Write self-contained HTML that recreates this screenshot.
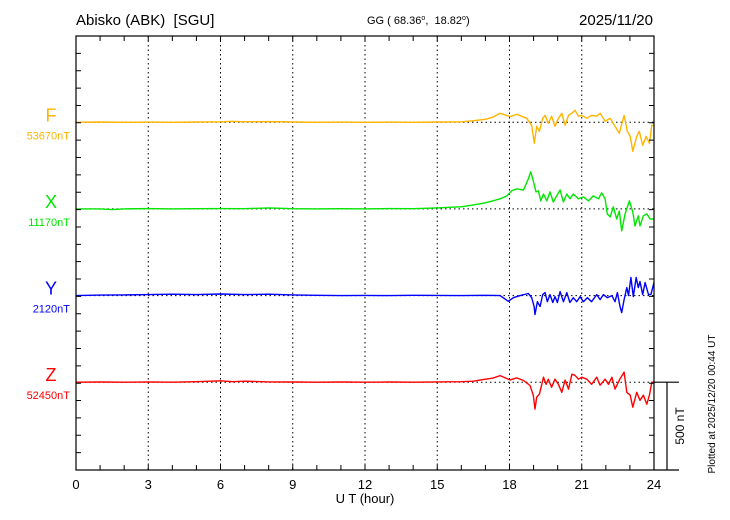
<!DOCTYPE html>
<html><head><meta charset="utf-8"><style>
body{margin:0;background:#fff;}
svg{display:block;font-family:"Liberation Sans",sans-serif;}
</style></head><body>
<svg id="chart" width="730" height="520" viewBox="0 0 730 520">
<text x="76" y="25" font-size="15">Abisko (ABK)&#160;&#160;[SGU]</text>
<text x="367" y="24" font-size="11">GG ( 68.36<tspan dy="-4" font-size="7">o</tspan><tspan dy="4">,&#160;&#160;18.82</tspan><tspan dy="-4" font-size="7">o</tspan><tspan dy="4">)</tspan></text>
<text x="653" y="25" font-size="15" text-anchor="end">2025/11/20</text>
<g id="grid"></g>
<g id="series"></g>
<g id="axes"></g>
<text x="365" y="503" font-size="13" text-anchor="middle">U T (hour)</text>
<text transform="translate(684,426) rotate(-90)" font-size="12" text-anchor="middle">500 nT</text>
<text transform="translate(715,404) rotate(-90)" font-size="10" text-anchor="middle">Plotted at 2025/12/20 00:44 UT</text>
</svg>
<script>
const xTicks=[0,3,6,9,12,15,18,21,24];
const names=['F','X','Y','Z'];
const baseLabels=['53670nT','11170nT','2120nT','52450nT'];
const colors=['#ffb400','#00e600','#0000ff','#ff0000'];
const tF=[0,1,2,3,4,5,6,6.5,7,8,9,10,11,12,13,14,15,16,16.5,17,17.3,17.61,18.02,18.3,18.72,18.92,19.03,19.13,19.24,19.38,19.48,19.61,19.75,19.89,20.03,20.17,20.31,20.45,20.59,20.72,20.86,21.0,21.21,21.41,21.62,21.76,21.97,22.18,22.38,22.56,22.76,22.89,23.01,23.12,23.28,23.39,23.53,23.67,23.81,23.91,24.0];
const vF=[0,2,0,1,0,2,3,6,3,4,2,0,1,0,1,0,2,3,9,17,29,52,33,46,23,-17,-121,-23,-52,23,40,-6,35,-23,23,52,-17,40,52,69,35,40,23,40,35,52,6,23,-23,-63,40,-52,-81,-167,-81,-52,-132,-81,-121,-17,-17];
const tX=[0,1,1.5,2,3,4,5,6,7,8,9,10,11,12,13,14,15,15.5,16,16.5,17,17.3,17.61,17.89,18.09,18.3,18.58,18.78,18.88,18.99,19.1,19.2,19.3,19.41,19.55,19.68,19.82,19.96,20.1,20.24,20.38,20.51,20.65,20.86,21.07,21.28,21.48,21.69,21.83,21.97,22.06,22.18,22.31,22.45,22.56,22.66,22.8,22.98,23.12,23.21,23.35,23.42,23.56,23.7,23.84,24.0];
const vX=[0,0,-4,0,2,0,1,2,1,6,1,0,1,0,2,1,6,9,12,23,35,46,58,75,104,115,109,173,213,161,98,104,46,86,46,98,40,75,109,40,86,58,86,58,69,46,75,58,92,58,-29,-46,12,-58,-12,-127,-29,46,-17,-98,-40,-98,-40,-29,-58,-58];
const tY=[0,1,2,3,4,5,6,7,8,9,10,11,12,13,14,15,16,17,17.61,17.95,18.16,18.44,18.78,18.92,19.02,19.06,19.16,19.27,19.38,19.48,19.57,19.68,19.8,19.89,19.99,20.1,20.24,20.38,20.51,20.65,20.79,20.93,21.07,21.23,21.41,21.62,21.76,21.9,22.06,22.25,22.38,22.48,22.59,22.66,22.76,22.87,22.94,23.04,23.14,23.26,23.35,23.42,23.53,23.63,23.77,23.87,24.0];
const vY=[0,3,4,6,8,6,9,6,8,4,2,0,1,0,2,1,0,2,0,-33,-12,0,12,-12,-63,-109,-35,-63,6,17,-35,6,-40,-6,-40,23,-35,17,-40,-12,-35,-6,-35,-12,-35,6,-23,6,-12,0,-35,17,-63,-98,-23,46,0,104,-6,104,46,81,6,75,6,6,75];
const tZ=[0,1,2,3,4,5,6,6.5,7,8,9,10,11,12,13,14,15,16,16.5,17,17.3,17.61,18.02,18.3,18.58,18.85,18.99,19.06,19.13,19.24,19.34,19.41,19.52,19.61,19.75,19.89,20.03,20.17,20.31,20.45,20.59,20.72,20.86,21.0,21.21,21.41,21.62,21.76,21.97,22.11,22.25,22.38,22.58,22.76,22.87,23.01,23.12,23.28,23.42,23.56,23.7,23.81,23.91,24.0];
const vZ=[0,1,0,2,0,3,8,3,6,2,1,0,1,0,1,0,2,3,6,17,23,38,13,25,10,-19,-75,-155,-86,-69,-12,29,-12,17,-29,17,-12,-58,12,-40,46,40,17,29,17,-12,29,-17,17,-12,29,-40,17,58,-58,-75,-144,-58,-104,-75,-127,-75,0,0];
const T=[tF,tX,tY,tZ], V=[vF,vX,vY,vZ];
const NS='http://www.w3.org/2000/svg';
const L=76,R=654,TOP=36,BOT=470;
const baseY=[122.3,208.9,295.6,382.2];
const pxPerNT=86.8/500;
const xs=h=>L+(R-L)*h/24;
const ys=(i,v)=>baseY[i]-v*pxPerNT;
function mk(tag,attrs,parent){const e=document.createElementNS(NS,tag);for(const k in attrs)e.setAttribute(k,attrs[k]);parent.appendChild(e);return e;}
const grid=document.getElementById('grid'),axes=document.getElementById('axes'),ser=document.getElementById('series');
xTicks.slice(1,-1).forEach(h=>{
 const l=mk('line',{x1:xs(h),x2:xs(h),y1:TOP,y2:BOT,stroke:'#000','stroke-width':1,'stroke-dasharray':'1.5,3'},grid);
 
 
});
baseY.forEach((y,i)=>{
 const l=mk('line',{x1:L,x2:R,y1:y,y2:y,stroke:'#000','stroke-width':1,'stroke-dasharray':'1.5,3'},grid);
 
 
});
for(let s=0;s<4;s++){
 const d=T[s].map((t,j)=>(j?'L':'M')+xs(t).toFixed(1)+','+ys(s,V[s][j]).toFixed(1)).join('');
 const p=mk('path',{d:d,fill:'none',stroke:colors[s],'stroke-width':1.4,'stroke-linejoin':'round'},ser);
 
 
 const a=mk('text',{x:51,y:baseY[s]-1,'font-size':18,fill:colors[s],'text-anchor':'middle'},ser);
 a.textContent=names[s];
 
 
 const b=mk('text',{x:70,y:baseY[s]+17,'font-size':11,fill:colors[s],'text-anchor':'end'},ser);
 b.textContent=baseLabels[s];
 
 
}
const fr=mk('rect',{x:L,y:TOP,width:R-L,height:BOT-TOP,fill:'none',stroke:'#000','stroke-width':1.2},axes);


let td='';
for(let h=1;h<24;h++){td+=`M${xs(h)},${TOP}v5M${xs(h)},${BOT}v-5`;}
for(let k=1;k<25;k++){const y=TOP+(BOT-TOP)*k/25;td+=`M${L},${y}h5M${R},${y}h-5`;}
const tk=mk('path',{d:td,stroke:'#000','stroke-width':1},axes);


const sb=mk('path',{d:`M${R},${BOT}H679M${R},${baseY[3]}H679M667,${baseY[3]}V${BOT}`,stroke:'#000','stroke-width':1.2,fill:'none'},axes);


xTicks.forEach(h=>{
 const t=mk('text',{x:xs(h),y:489,'font-size':13,'text-anchor':'middle'},axes);
 t.textContent=h;
 
 
});
</script>
</body></html>
